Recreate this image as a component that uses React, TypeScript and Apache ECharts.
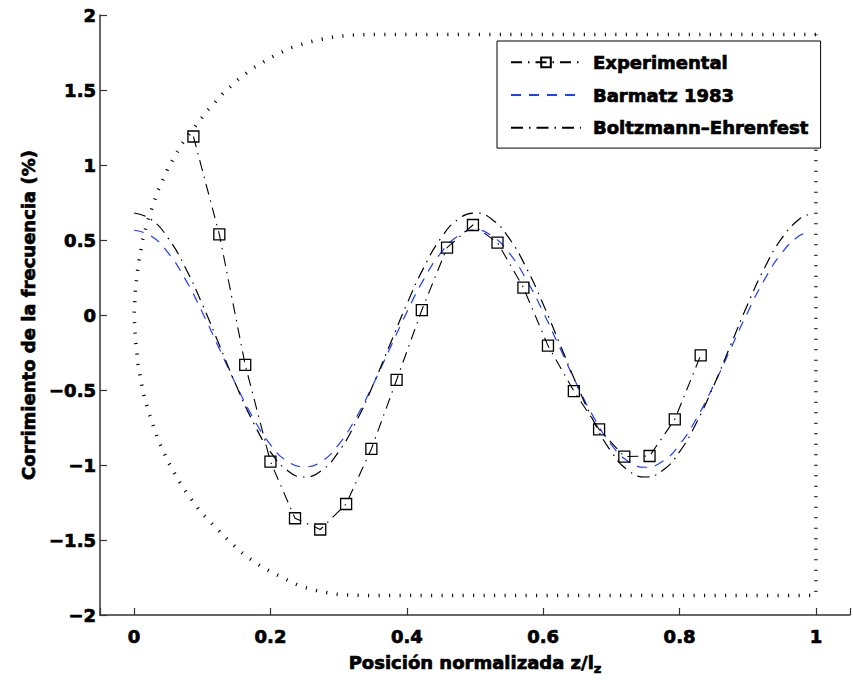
import React, { useEffect, useRef } from "react";
import * as echarts from "echarts";

// Experimental points
const expX = [0.087, 0.125, 0.163, 0.2, 0.236, 0.273, 0.311, 0.348, 0.385, 0.422, 0.459, 0.497, 0.533, 0.571, 0.607, 0.645, 0.682, 0.719, 0.756, 0.793, 0.831];
const expY = [1.19, 0.538, -0.333, -0.978, -1.355, -1.43, -1.26, -0.893, -0.433, 0.033, 0.449, 0.6, 0.482, 0.182, -0.204, -0.507, -0.762, -0.944, -0.94, -0.696, -0.269];

// Theory curves, sampled positions
const zPos = [0, 0.025, 0.05, 0.075, 0.1, 0.125, 0.15, 0.175, 0.2, 0.225, 0.25, 0.275, 0.3, 0.325, 0.35, 0.375, 0.4, 0.425, 0.45, 0.475, 0.5, 0.525, 0.55, 0.575, 0.6, 0.625, 0.65, 0.675, 0.7, 0.725, 0.75, 0.775, 0.8, 0.825, 0.85, 0.875, 0.9, 0.925, 0.95, 0.975, 0.99];
const barmatz = [0.565, 0.526, 0.414, 0.239, 0.019, -0.225, -0.469, -0.689, -0.864, -0.976, -1.012, -0.976, -0.864, -0.689, -0.469, -0.225, 0.019, 0.239, 0.414, 0.526, 0.568, 0.526, 0.414, 0.239, 0.019, -0.225, -0.469, -0.689, -0.864, -0.976, -1.015, -0.976, -0.864, -0.689, -0.469, -0.225, 0.019, 0.239, 0.414, 0.526, 0.55];
const boltzmann = [0.68, 0.637, 0.512, 0.317, 0.072, -0.2, -0.472, -0.717, -0.912, -1.037, -1.08, -1.037, -0.912, -0.717, -0.472, -0.2, 0.072, 0.317, 0.512, 0.637, 0.68, 0.637, 0.512, 0.317, 0.072, -0.2, -0.472, -0.717, -0.912, -1.037, -1.08, -1.037, -0.912, -0.717, -0.472, -0.2, 0.072, 0.317, 0.512, 0.637, 0.67];

// Dotted boundary outline
const boundaryX = [1.0, 0.35, 0.315, 0.288, 0.258, 0.229, 0.202, 0.174, 0.152, 0.13, 0.109, 0.089, 0.07, 0.05, 0.035, 0.02, 0.0125, 0.006, 0.002, 0, 0.002, 0.006, 0.0125, 0.02, 0.035, 0.05, 0.07, 0.097, 0.116, 0.14, 0.164, 0.188, 0.217, 0.243, 0.274, 0.303, 0.35, 1.0, 1.0];
const boundaryY = [1.87, 1.87, 1.865, 1.85, 1.822, 1.78, 1.72, 1.645, 1.567, 1.475, 1.37, 1.255, 1.14, 0.98, 0.83, 0.63, 0.5, 0.33, 0.17, 0, -0.17, -0.33, -0.5, -0.63, -0.83, -0.98, -1.14, -1.31, -1.4, -1.51, -1.607, -1.682, -1.749, -1.807, -1.845, -1.865, -1.87, -1.87, 1.87];

const legendNames = ["Experimental", "Barmatz 1983", "Boltzmann–Ehrenfest"];
const yTitle = "Corrimiento de la frecuencia (%)";

const FONT = "DejaVu Sans";
const HEAVY = { textBorderColor: "#000", textBorderWidth: 0.7 };

export default function App() {
  const ref = useRef<HTMLDivElement>(null);
  useEffect(() => {
    if (!ref.current) return;
    const chart = echarts.init(ref.current, null, { renderer: "svg" });
    const zip = (xs: number[], ys: number[]) => xs.map((x, i) => [x, ys[i]]);
    chart.setOption({
      animation: false,
      backgroundColor: "#fff",
      grid: { left: 100, top: 15, width: 763, height: 600, containLabel: false },
      xAxis: {
        type: "value",
        min: -0.05,
        max: 1.05,
        splitNumber: 5,
        splitLine: { show: false },
        axisLine: { show: true, onZero: false, lineStyle: { color: "#333", width: 1.5 } },
        axisTick: { show: true, inside: true, length: 7, lineStyle: { color: "#333", width: 1.2 } },
        axisLabel: {
          color: "#000",
          fontFamily: FONT,
          fontWeight: "bold",
          fontSize: 18,
          margin: 12,
          ...HEAVY,
          showMinLabel: true,
          showMaxLabel: true,
          formatter: (v: number) => {
            const r = v / 0.2;
            return Math.abs(r - Math.round(r)) < 1e-6 ? String(+v.toFixed(1)) : "";
          },
        },
        name: "{a|Posición normalizada z/l}{b|z}",
        nameLocation: "middle",
        nameGap: 36,
        nameTextStyle: {
          rich: {
            a: { fontFamily: FONT, fontWeight: "bold", fontSize: 18, color: "#000", lineHeight: 22, ...HEAVY },
            b: { fontFamily: FONT, fontWeight: "bold", fontSize: 13, color: "#000", lineHeight: 22, padding: [12, 0, 0, 0], ...HEAVY },
          },
        },
      },
      yAxis: {
        type: "value",
        min: -2,
        max: 2,
        interval: 0.5,
        splitLine: { show: false },
        axisLine: { show: true, onZero: false, lineStyle: { color: "#333", width: 1.5 } },
        axisTick: { show: true, inside: true, length: 7, lineStyle: { color: "#333", width: 1.2 } },
        axisLabel: {
          color: "#000",
          fontFamily: FONT,
          fontWeight: "bold",
          fontSize: 18,
          margin: 4,
          ...HEAVY,
          formatter: (v: number) => String(v).replace("-", "−"),
        },
        name: yTitle,
        nameLocation: "middle",
        nameGap: 62,
        nameTextStyle: { fontFamily: FONT, fontWeight: "bold", fontSize: 18, color: "#000", ...HEAVY },
      },
      legend: {
        data: [
          { name: legendNames[0] },
          { name: legendNames[1], itemStyle: { opacity: 0 } },
          { name: legendNames[2], itemStyle: { opacity: 0 } },
        ],
        orient: "vertical",
        left: 497,
        top: 41,
        itemWidth: 70,
        itemHeight: 12,
        itemGap: 14,
        padding: [12, 12, 11, 13],
        borderColor: "#000",
        borderWidth: 1,
        backgroundColor: "#fff",
        textStyle: { fontFamily: FONT, fontWeight: "bold", fontSize: 18, color: "#000", padding: [0, 0, 0, 7], ...HEAVY },
      },
      series: [
        {
          name: "boundary",
          type: "line",
          data: zip(boundaryX, boundaryY),
          showSymbol: false,
          symbol: "none",
          silent: true,
          lineStyle: { color: "#000", width: 3.5, type: [1.1, 9.4], cap: "butt" },
          z: 1,
        },
        {
          name: legendNames[1],
          type: "line",
          data: zip(zPos, barmatz),
          smooth: true,
          symbol: "none",
          lineStyle: { color: "#1f3fff", width: 1.2, type: [10, 8] },
          itemStyle: { color: "#1f3fff" },
          z: 2,
        },
        {
          name: legendNames[2],
          type: "line",
          data: zip(zPos, boltzmann),
          smooth: true,
          symbol: "none",
          lineStyle: { color: "#000", width: 1.2, type: [12, 6, 1.5, 6] },
          itemStyle: { color: "#000" },
          z: 3,
        },
        {
          name: legendNames[0],
          type: "line",
          data: zip(expX, expY),
          symbol: "rect",
          symbolSize: 11,
          showAllSymbol: true,
          lineStyle: { color: "#000", width: 1.1, type: [11, 6, 1.5, 6] },
          itemStyle: { color: "rgba(255,255,255,0)", borderColor: "#000", borderWidth: 1.3 },
          z: 4,
        },
      ],
    });
    return () => chart.dispose();
  }, []);
  return (
    <div
      ref={ref}
      style={{ position: "fixed", left: 0, top: 0, width: 853, height: 685, background: "#fff" }}
    />
  );
}
